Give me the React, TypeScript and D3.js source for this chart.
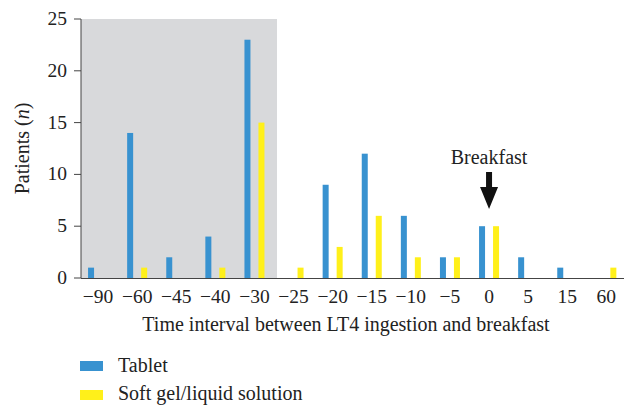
import React from "react";
import * as d3 from "d3";

const categories = ["−90", "−60", "−45", "−40", "−30", "−25", "−20", "−15", "−10", "−5", "0", "5", "15", "60"];
const tablet = [1, 14, 2, 4, 23, 0, 9, 12, 6, 2, 5, 2, 1, 0];
const softGel = [0, 1, 0, 1, 15, 1, 3, 6, 2, 2, 5, 0, 0, 1];
const yTicks = [0, 5, 10, 15, 20, 25];
const seriesNames = ["Tablet", "Soft gel/liquid solution"];

const BLUE = "#3892d0";
const YELLOW = "#fff01a";
const FONT = "'Liberation Serif', 'DejaVu Serif', serif";

export default function App() {
  const W = 630, H = 405;
  const axisX = 81;
  const x = d3.scaleBand<string>().domain(categories).range([78.5, 625.9]).paddingInner(0).paddingOuter(0);
  const y = d3.scaleLinear().domain([0, 25]).range([278, 19]);
  const bw = 6;
  const off = 7;
  const grayEnd = (x("−30") as number) + x.bandwidth() + 3;
  const cx = (c: string) => (x(c) as number) + x.bandwidth() / 2;
  const bx = cx("0");
  const fs = 19.5;
  const tfs = 20;

  return (
    <svg width={W} height={H} style={{ position: "absolute", left: 0, top: 0 }} fontFamily={FONT}>
      <rect x={axisX} y={y(25)} width={grayEnd - axisX} height={y(0) - y(25)} fill="#d8d9db" />
      {categories.map((c, i) => (
        <g key={c}>
          {tablet[i] > 0 && (
            <rect x={cx(c) - off - bw / 2} y={y(tablet[i])} width={bw} height={y(0) - y(tablet[i])} fill={BLUE} />
          )}
          {softGel[i] > 0 && (
            <rect x={cx(c) + off - bw / 2} y={y(softGel[i])} width={bw} height={y(0) - y(softGel[i])} fill={YELLOW} />
          )}
          <text x={cx(c)} y={303} textAnchor="middle" fontSize={fs} fill="#222">{c}</text>
        </g>
      ))}
      <line x1={axisX} x2={axisX} y1={y(25)} y2={y(0)} stroke="#444" strokeWidth={1} />
      <line x1={axisX} x2={624} y1={y(0) + 0.5} y2={y(0) + 0.5} stroke="#444" strokeWidth={1} />
      {yTicks.map((t) => (
        <g key={t}>
          <line x1={axisX - 7} x2={axisX} y1={y(t)} y2={y(t)} stroke="#444" strokeWidth={1} />
          <text x={67} y={y(t) + 6} textAnchor="end" fontSize={fs} fill="#222">{t}</text>
        </g>
      ))}
      <text transform={`translate(29,${(y(0) + y(25)) / 2}) rotate(-90)`} textAnchor="middle" fontSize={tfs} fill="#222">
        Patients (<tspan fontStyle="italic">n</tspan>)
      </text>
      <text x={346} y={331} textAnchor="middle" fontSize={tfs} fill="#222">
        Time interval between LT4 ingestion and breakfast
      </text>
      <text x={bx} y={164} textAnchor="middle" fontSize={tfs} fill="#222">Breakfast</text>
      <path
        d={`M${bx - 3},172 L${bx + 3},172 L${bx + 3},187 L${bx + 9},187 L${bx},209 L${bx - 9},187 L${bx - 3},187 Z`}
        fill="#111"
      />
      <rect x={80} y={361} width={23} height={10} fill={BLUE} />
      <text x={118} y={372} fontSize={tfs} fill="#222">{seriesNames[0]}</text>
      <rect x={80} y={390} width={23} height={10} fill={YELLOW} />
      <text x={118} y={400} fontSize={tfs} fill="#222">{seriesNames[1]}</text>
    </svg>
  );
}
